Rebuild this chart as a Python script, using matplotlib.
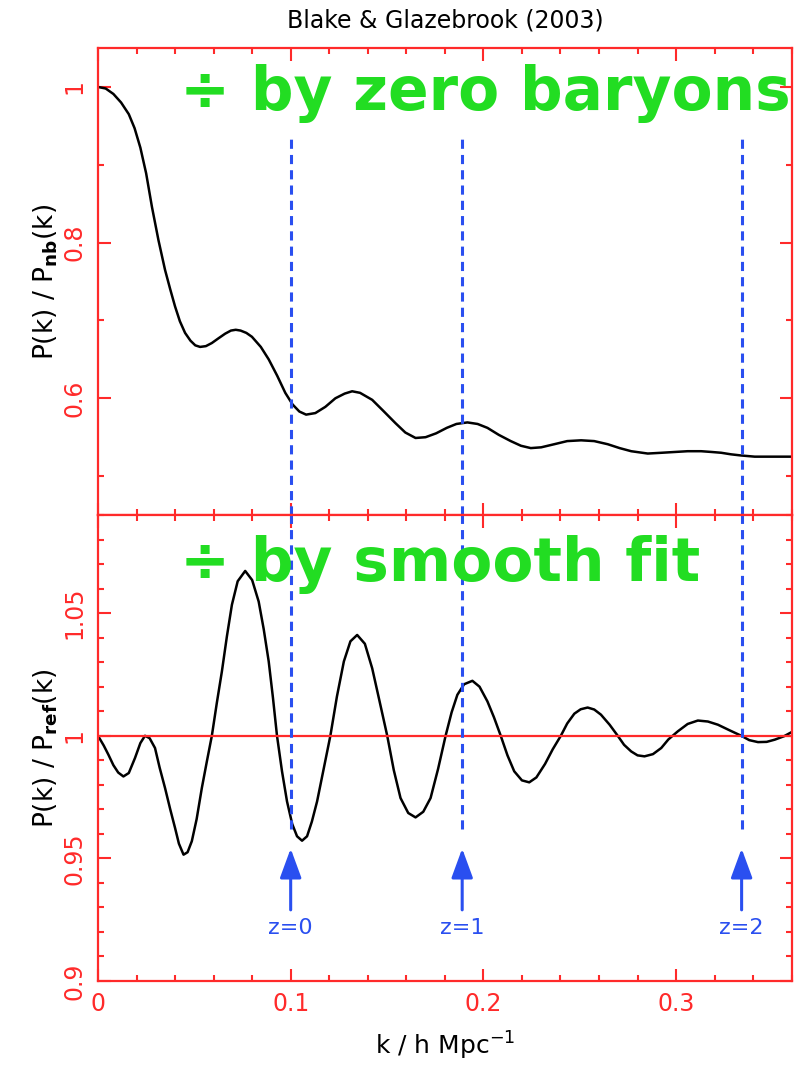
import numpy as np
import matplotlib
matplotlib.use('Agg')
import matplotlib.pyplot as plt
from matplotlib.ticker import MultipleLocator

# upper panel: P(k)/P_nb(k)
k_nb = [0.0, 0.004, 0.008, 0.012, 0.016, 0.019, 0.022, 0.025, 0.028, 0.0314,
        0.0348, 0.0375, 0.040, 0.0425, 0.0452, 0.048, 0.0505, 0.053, 0.056,
        0.0591, 0.0625, 0.066, 0.069, 0.0715, 0.074, 0.077, 0.0799, 0.0845,
        0.0886, 0.093, 0.0972, 0.101, 0.1045, 0.108, 0.1128, 0.118, 0.1232,
        0.128, 0.1319, 0.136, 0.1423, 0.148, 0.1544, 0.1595, 0.1648, 0.170,
        0.1755, 0.181, 0.186, 0.1917, 0.197, 0.2021, 0.208, 0.2142, 0.2195,
        0.2246, 0.230, 0.2368, 0.2435, 0.2507, 0.2575, 0.2645, 0.2707, 0.2767,
        0.2853, 0.2925, 0.2992, 0.306, 0.313, 0.3185, 0.3234, 0.3285, 0.3338,
        0.3408, 0.350, 0.3607]
p_nb = [1.0, 0.998, 0.991, 0.980, 0.965, 0.947, 0.922, 0.889, 0.846, 0.803,
        0.765, 0.740, 0.718, 0.699, 0.684, 0.674, 0.668, 0.666, 0.667,
        0.671, 0.677, 0.683, 0.687, 0.688, 0.687, 0.684, 0.679, 0.666,
        0.650, 0.629, 0.607, 0.592, 0.583, 0.579, 0.581, 0.589, 0.600,
        0.606, 0.609, 0.607, 0.598, 0.584, 0.568, 0.556, 0.549, 0.550,
        0.555, 0.562, 0.567, 0.569, 0.567, 0.562, 0.553, 0.545, 0.539,
        0.536, 0.537, 0.541, 0.545, 0.546, 0.545, 0.541, 0.536, 0.532,
        0.529, 0.530, 0.531, 0.532, 0.532, 0.531, 0.530, 0.528, 0.5265,
        0.525, 0.525, 0.525]

# lower panel: P(k)/P_ref(k)
k_ref = [0.0, 0.003, 0.0054, 0.008, 0.0105, 0.0132, 0.016, 0.0192, 0.022,
         0.0244, 0.0268, 0.0296, 0.032, 0.0348, 0.0375, 0.040, 0.042, 0.0444,
         0.0465, 0.0487, 0.0512, 0.0539, 0.0565, 0.0591, 0.0617, 0.0643,
         0.0669, 0.0695, 0.0725, 0.0764, 0.080, 0.0834, 0.086, 0.0886, 0.0908,
         0.0929, 0.0955, 0.0981, 0.1008, 0.1033, 0.1059, 0.1085, 0.111, 0.1137,
         0.117, 0.1206, 0.124, 0.1276, 0.131, 0.1345, 0.1385, 0.1423, 0.146,
         0.1501, 0.1535, 0.157, 0.161, 0.1648, 0.1688, 0.1726, 0.1765, 0.1804,
         0.1835, 0.1865, 0.190, 0.1943, 0.198, 0.2021, 0.2055, 0.209, 0.2125,
         0.216, 0.220, 0.2238, 0.2275, 0.232, 0.236, 0.2402, 0.2435, 0.2472,
         0.2505, 0.2541, 0.2575, 0.261, 0.2655, 0.2697, 0.273, 0.2767, 0.280,
         0.2836, 0.288, 0.2923, 0.296, 0.3009, 0.306, 0.3113, 0.3165, 0.3217,
         0.3278, 0.3338, 0.338, 0.3425, 0.347, 0.3512, 0.356, 0.3607]
p_ref = [1.0, 0.996, 0.9923, 0.988, 0.985, 0.9834, 0.9848, 0.9909, 0.997,
         1.0, 0.999, 0.995, 0.987, 0.9787, 0.970, 0.9624, 0.956, 0.9515,
         0.9525, 0.957, 0.966, 0.9787, 0.9895, 1.0, 1.0135, 1.0262,
         1.0405, 1.0534, 1.063, 1.0672, 1.0635, 1.0547, 1.0435, 1.0303, 1.0155,
         1.0, 0.9855, 0.9732, 0.964, 0.959, 0.9572, 0.959, 0.965, 0.9732,
         0.986, 1.0, 1.016, 1.0303, 1.0385, 1.0411, 1.0375, 1.0275, 1.0145,
         1.0, 0.986, 0.9746, 0.9685, 0.9667, 0.969, 0.9746, 0.9865, 1.0,
         1.0095, 1.0167, 1.021, 1.0224, 1.020, 1.014, 1.0075, 1.0, 0.992,
         0.9855, 0.9818, 0.981, 0.983, 0.9885, 0.9945, 1.0, 1.005, 1.009,
         1.0108, 1.0115, 1.0107, 1.0086, 1.0045, 1.0, 0.9963, 0.9936, 0.9920,
         0.9916, 0.9925, 0.995, 0.9985, 1.0018, 1.0048, 1.0062, 1.0058, 1.0045,
         1.0022, 1.0, 0.9982, 0.9974, 0.9975, 0.9984, 0.9998, 1.0018]

# redshift markers
k_z = [0.1, 0.189, 0.334]
z_labels = ['z=0', 'z=1', 'z=2']

red = '#ff2a2a'
blue = '#2a4ff0'
green = '#22dd22'

fig = plt.figure(figsize=(8.05, 10.65), dpi=100)
ax1 = fig.add_axes([0.1217, 0.5164, 0.8618, 0.4385])
ax2 = fig.add_axes([0.1217, 0.0789, 0.8618, 0.4375])

for ax in (ax1, ax2):
    ax.set_xlim(0, 0.36)
    ax.xaxis.set_major_locator(MultipleLocator(0.1))
    ax.xaxis.set_minor_locator(MultipleLocator(0.02))
    for s in ax.spines.values():
        s.set_color(red)
        s.set_linewidth(1.6)
    ax.tick_params(which='both', direction='in', top=True, right=True,
                   color=red, labelcolor=red, width=1.5, labelsize=17)
    ax.tick_params(which='major', length=9)
    ax.tick_params(which='minor', length=4.5)

ax1.plot(k_nb, p_nb, color='black', lw=1.8, solid_joinstyle='round')
ax1.set_ylim(0.45, 1.05)
ax1.set_yticks([0.6, 0.8, 1.0])
ax1.yaxis.set_minor_locator(MultipleLocator(0.1))
ax1.set_yticklabels(['0.6', '0.8', '1'], rotation=90, va='center')
ax1.tick_params(labelbottom=False, pad=8)
ax1.set_ylabel(r'P(k) / P$_{\mathbf{nb}}$(k)', fontsize=19, labelpad=2)
ax1.vlines(k_z, 0.45, 0.938, colors=blue, linestyles=(0, (3, 2)), lw=2.2)
ax1.text(0.0426, 0.970, '÷ by zero baryons', color=green, fontsize=43,
         fontweight='bold', ha='left', va='baseline')

ax2.plot(k_ref, p_ref, color='black', lw=1.8, solid_joinstyle='round')
ax2.axhline(1.0, color=red, lw=1.6)
ax2.set_ylim(0.9, 1.09)
ax2.set_yticks([0.9, 0.95, 1.0, 1.05])
ax2.yaxis.set_minor_locator(MultipleLocator(0.01))
ax2.set_yticklabels(['0.9', '0.95', '1', '1.05'], rotation=90, va='center')
ax2.set_xticks([0, 0.1, 0.2, 0.3])
ax2.set_xticklabels(['0', '0.1', '0.2', '0.3'])
ax2.tick_params(axis='both', pad=8)
ax2.set_ylabel(r'P(k) / P$_{\mathbf{ref}}$(k)', fontsize=19, labelpad=2)
ax2.set_xlabel(r'k / h Mpc$^{-1}$', fontsize=18, labelpad=10)
ax2.vlines(k_z, 0.962, 1.09, colors=blue, linestyles=(0, (3, 2)), lw=2.2)
ax2.text(0.0426, 1.0629, '÷ by smooth fit', color=green, fontsize=43,
         fontweight='bold', ha='left', va='baseline')

for k, lab in zip(k_z, z_labels):
    ax2.annotate('', xy=(k, 0.954), xytext=(k, 0.929),
                 arrowprops=dict(arrowstyle='-|>,head_length=0.6,head_width=0.22',
                                 color=blue, lw=2.2, mutation_scale=30,
                                 shrinkA=0, shrinkB=0))
    ax2.text(k, 0.9217, lab, color=blue, fontsize=16, ha='center', va='center')

fig.text(0.553, 0.981, 'Blake & Glazebrook (2003)', fontsize=17,
         ha='center', va='center')

fig.savefig('out.png', dpi=100)
